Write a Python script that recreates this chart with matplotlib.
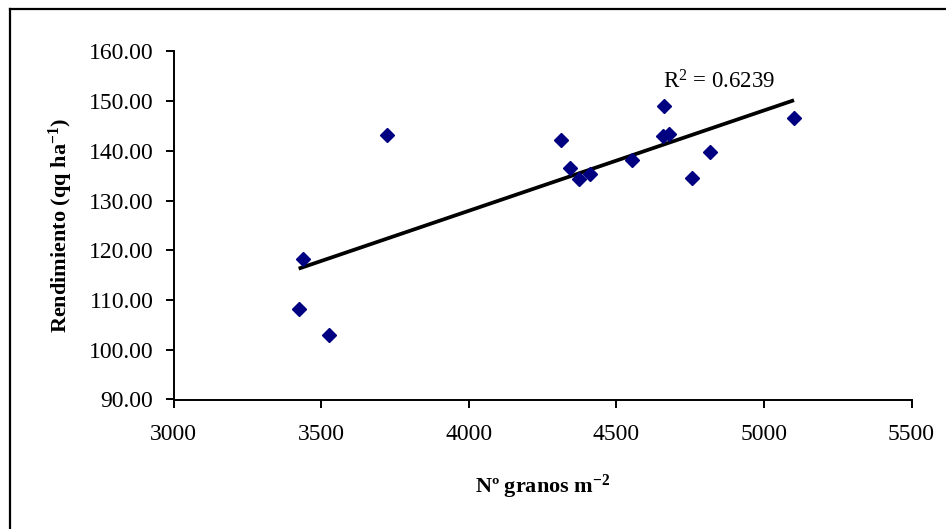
import numpy as np
import matplotlib
matplotlib.use("Agg")
import matplotlib.pyplot as plt
from matplotlib.lines import Line2D

# Data
granos = [3438, 3424, 3526, 3723, 4312, 4344, 4372, 4412, 4553,
          4661, 4657, 4677, 4757, 4818, 5102]
rendimiento = [118.3, 108.2, 103.0, 143.3, 142.1, 136.6, 134.4, 135.3, 138.2,
               149.0, 143.0, 143.5, 134.5, 139.7, 146.6]
x_ticks = [3000, 3500, 4000, 4500, 5000, 5500]
y_ticks = [90, 100, 110, 120, 130, 140, 150, 160]
r2_text = "R$^{2}$ = 0.6239"

plt.rcParams['font.family'] = ['Liberation Serif', 'DejaVu Serif']
plt.rcParams['mathtext.fontset'] = 'custom'
plt.rcParams['mathtext.rm'] = 'Liberation Serif'
plt.rcParams['mathtext.it'] = 'Liberation Serif:italic'
plt.rcParams['mathtext.bf'] = 'Liberation Serif:bold'

fig = plt.figure(figsize=(9.46, 5.29), dpi=100)
ax = fig.add_axes([173.5 / 946, 1 - 399.5 / 529, (911.5 - 173.5) / 946, (399.5 - 51.5) / 529])

x = np.array(granos, dtype=float)
y = np.array(rendimiento, dtype=float)
ax.plot(x, y, linestyle='none', marker='D', markersize=6.8,
        markerfacecolor='#000080', markeredgecolor='#000080', zorder=3)

coef = np.polyfit(x, y, 1)
xl = np.array([x.min(), x.max()])
ax.plot(xl, np.polyval(coef, xl), color='black', linewidth=2.7, zorder=2,
        solid_capstyle='butt')

ax.text(4658, 152.6, r2_text, fontsize=16.5, ha='left', va='baseline')

ax.set_xlim(3000, 5500)
ax.set_ylim(90, 160)
ax.set_xticks(x_ticks)
ax.set_xticklabels([str(t) for t in x_ticks])
ax.set_yticks(y_ticks)
ax.set_yticklabels([f"{t:.2f}" for t in y_ticks])

for side in ['top', 'right']:
    ax.spines[side].set_visible(False)
for side in ['left', 'bottom']:
    ax.spines[side].set_linewidth(1.4)
ax.tick_params(axis='both', direction='out', length=5.5, width=1.4, labelsize=17)
ax.tick_params(axis='x', pad=12)
ax.tick_params(axis='y', pad=9)

ax.set_xlabel(r"Nº granos m$^{\mathbf{-2}}$", fontsize=16, fontweight='bold', labelpad=20)
ax.set_ylabel(r"Rendimiento (qq ha$^{\mathbf{-1}}$)", fontsize=16, fontweight='bold', labelpad=10)

# Outer chart border (left and top visible)
fig.add_artist(Line2D([9.5 / 946, 9.5 / 946], [0, 1 - 8.5 / 529], transform=fig.transFigure,
                      color='black', linewidth=1.6))
fig.add_artist(Line2D([9.5 / 946, 1.0], [1 - 8.5 / 529, 1 - 8.5 / 529], transform=fig.transFigure,
                      color='black', linewidth=1.6))

fig.savefig("out.png", dpi=100)
